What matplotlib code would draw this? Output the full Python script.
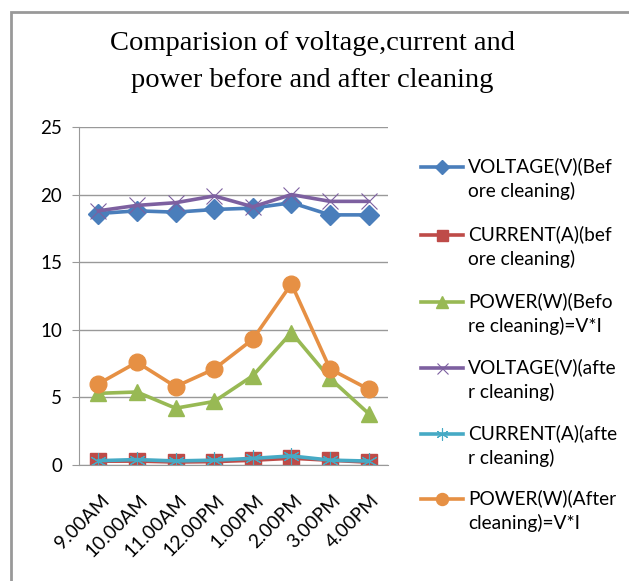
import matplotlib.pyplot as plt
from matplotlib.lines import Line2D
from matplotlib.patches import Rectangle
from matplotlib.transforms import ScaledTranslation

times = ['9.00AM', '10.00AM', '11.00AM', '12.00PM', '1.00PM', '2.00PM', '3.00PM', '4.00PM']

volt_before = [18.6, 18.8, 18.7, 18.9, 19.0, 19.4, 18.5, 18.5]
curr_before = [0.28, 0.29, 0.22, 0.25, 0.35, 0.50, 0.35, 0.21]
power_before = [5.3, 5.4, 4.2, 4.7, 6.6, 9.8, 6.4, 3.8]
volt_after = [18.8, 19.2, 19.4, 19.9, 19.1, 20.0, 19.5, 19.5]
curr_after = [0.32, 0.40, 0.30, 0.36, 0.49, 0.67, 0.36, 0.29]
power_after = [6.0, 7.6, 5.8, 7.1, 9.3, 13.4, 7.1, 5.6]

labels = ['VOLTAGE(V)(Bef\nore cleaning)',
          'CURRENT(A)(bef\nore cleaning)',
          'POWER(W)(Befo\nre cleaning)=V*I',
          'VOLTAGE(V)(afte\nr cleaning)',
          'CURRENT(A)(afte\nr cleaning)',
          'POWER(W)(After\ncleaning)=V*I']

# colour, marker, marker size, marker edge width
styles = [
    ('#4A7EBB', 'D', 10, 1),
    ('#BE4B48', 's', 11, 1),
    ('#98B954', '^', 12, 1),
    ('#7D60A0', 'x', 11, 0.8),
    ('#46AAC5', (6, 2, 0), 12, 0.8),
    ('#E69044', 'o', 12, 1),
]
series = [volt_before, curr_before, power_before, volt_after, curr_after, power_after]

W, H = 629, 581
fig = plt.figure(figsize=(W / 100, H / 100), dpi=100)
ax = fig.add_axes([79 / W, 1 - 465 / H, (388 - 79) / W, (465 - 127) / H])

x = list(range(len(times)))
for vals, (col, mk, ms, mew) in zip(series, styles):
    ax.plot(x, vals, color=col, lw=2.6, marker=mk, ms=ms, mew=mew,
            mec=col, mfc=col, solid_capstyle='round')

ax.set_xlim(-0.5, len(times) - 0.5)
ax.set_ylim(0, 25)
ax.set_yticks([0, 5, 10, 15, 20, 25])
ax.yaxis.grid(True, color='#999999', lw=1)
ax.set_axisbelow(True)
for s in ['top', 'right']:
    ax.spines[s].set_visible(False)
for s in ['left', 'bottom']:
    ax.spines[s].set_color('#999999')
ax.tick_params(axis='y', length=5, color='#999999', labelsize=13.5, pad=7)
ax.tick_params(axis='x', length=0, labelsize=13.8, pad=19)
ax.set_xticks(x)
ax.set_xticklabels(times, rotation=45, ha='right', rotation_mode='anchor')
shift = ScaledTranslation(2 / 100, 0, fig.dpi_scale_trans)
for t in ax.get_xticklabels():
    t.set_transform(t.get_transform() + shift)
for t in ax.get_xticklabels() + ax.get_yticklabels():
    t.set_family('Lato')

fig.text(312 / W, 1 - 62 / H,
         'Comparision of voltage,current and\npower before and after cleaning',
         ha='center', va='center', family='Liberation Serif', fontsize=20.5,
         linespacing=1.65)

# legend drawn by hand so the key lines up with the first text line
ys = [167, 235, 302, 368, 434, 499]
for yp, lab, (col, mk, ms, mew) in zip(ys, labels, styles):
    fy = 1 - yp / H
    fig.add_artist(Line2D([421 / W, 463 / W], [fy, fy], color=col, lw=2.6,
                          transform=fig.transFigure))
    fig.add_artist(Line2D([442 / W], [fy], color=col, marker=mk, ms=ms * 0.72,
                          mew=mew, mec=col, mfc=col, transform=fig.transFigure))
    fig.text(468 / W, fy + 10 / H, lab, ha='left', va='top', family='Lato',
             fontsize=13.8, linespacing=1.45)

fig.add_artist(Rectangle((11 / W, -0.05), 1.2, 1.05 - 12 / H, fill=False,
                         edgecolor='#999999', lw=2, transform=fig.transFigure))

fig.savefig('out.png', dpi=100)
